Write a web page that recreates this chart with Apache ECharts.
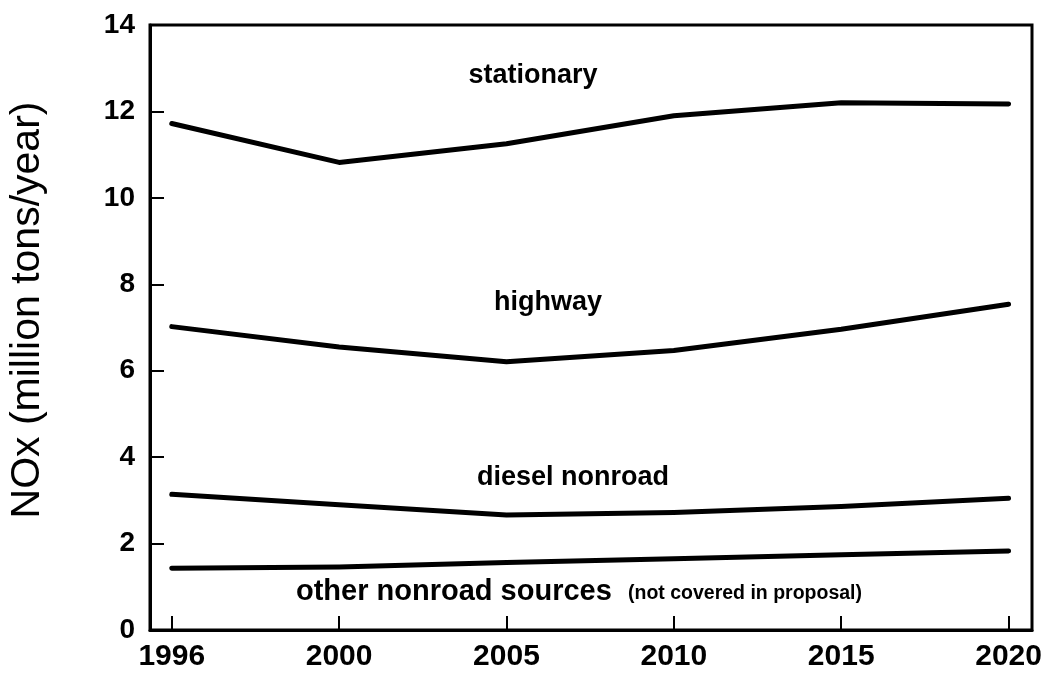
<!DOCTYPE html>
<html>
<head>
<meta charset="utf-8">
<script src="https://cdn.jsdelivr.net/npm/echarts@6/dist/echarts.min.js"></script>
<style>
html,body{margin:0;padding:0;background:#fff;}
#chart{width:1054px;height:680px;}
</style>
</head>
<body>
<div id="chart"></div>
<script>
// ---- data ----
var years = ['1996', '2000', '2005', '2010', '2015', '2020'];
var stationary = [11.72, 10.82, 11.25, 11.9, 12.2, 12.17];
var highway = [7.02, 6.55, 6.21, 6.47, 6.96, 7.54];
var dieselNonroad = [3.14, 2.9, 2.66, 2.72, 2.86, 3.05];
var otherNonroad = [1.43, 1.46, 1.56, 1.65, 1.74, 1.83];
var yTicks = [0, 2, 4, 6, 8, 10, 12, 14];

var FONT = '"Liberation Sans", Arial, Helvetica, sans-serif';

function pts(arr) {
  return arr.map(function (v, i) { return [i, v]; });
}
function lineSeries(name, arr) {
  return {
    name: name,
    type: 'line',
    data: pts(arr),
    symbol: 'none',
    smooth: false,
    lineStyle: { color: '#000', width: 5, cap: 'round', join: 'round' },
    silent: true
  };
}

var chart = echarts.init(document.getElementById('chart'), null, { renderer: 'canvas' });
var idx = years.map(function (y, i) { return i; });

chart.setOption({
  backgroundColor: '#fff',
  animation: false,
  grid: {
    left: 150, right: 22, top: 25, bottom: 50,
    show: true, borderColor: '#000', borderWidth: 3, backgroundColor: 'transparent'
  },
  xAxis: {
    type: 'value',
    min: -0.13,
    max: 5.14,
    axisLine: { show: true, onZero: false, lineStyle: { color: '#000', width: 3 } },
    axisTick: { show: true, inside: true, length: 14, customValues: idx, lineStyle: { color: '#000', width: 2 } },
    axisLabel: {
      customValues: idx,
      formatter: function (v) { return years[Math.round(v)]; },
      color: '#000', fontFamily: FONT, fontWeight: 'bold', fontSize: 30, margin: 12
    },
    splitLine: { show: false }
  },
  yAxis: {
    type: 'value',
    min: yTicks[0],
    max: yTicks[yTicks.length - 1],
    interval: 2,
    axisLine: { show: true, onZero: false, lineStyle: { color: '#000', width: 3 } },
    axisTick: { show: true, inside: true, length: 14, lineStyle: { color: '#000', width: 2 } },
    axisLabel: { color: '#000', fontFamily: FONT, fontWeight: 'bold', fontSize: 28, margin: 15 },
    splitLine: { show: false }
  },
  graphic: [
    { type: 'text', x: 28, y: 310, rotation: Math.PI / 2,
      style: { text: 'NOx (million tons/year)', font: '41px ' + FONT, fill: '#000', align: 'center', verticalAlign: 'middle' } },
    { type: 'text', x: 533, y: 76,
      style: { text: 'stationary', font: 'bold 27px ' + FONT, fill: '#000', align: 'center', verticalAlign: 'middle' } },
    { type: 'text', x: 548, y: 303,
      style: { text: 'highway', font: 'bold 27px ' + FONT, fill: '#000', align: 'center', verticalAlign: 'middle' } },
    { type: 'text', x: 573, y: 478,
      style: { text: 'diesel nonroad', font: 'bold 27px ' + FONT, fill: '#000', align: 'center', verticalAlign: 'middle' } },
    { type: 'text', x: 296, y: 592,
      style: { text: 'other nonroad sources', font: 'bold 29px ' + FONT, fill: '#000', align: 'left', verticalAlign: 'middle' } },
    { type: 'text', x: 628, y: 594,
      style: { text: '(not covered in proposal)', font: 'bold 19.5px ' + FONT, fill: '#000', align: 'left', verticalAlign: 'middle' } }
  ],
  series: [
    lineSeries('stationary', stationary),
    lineSeries('highway', highway),
    lineSeries('diesel nonroad', dieselNonroad),
    lineSeries('other nonroad sources', otherNonroad)
  ]
});
</script>
</body>
</html>
